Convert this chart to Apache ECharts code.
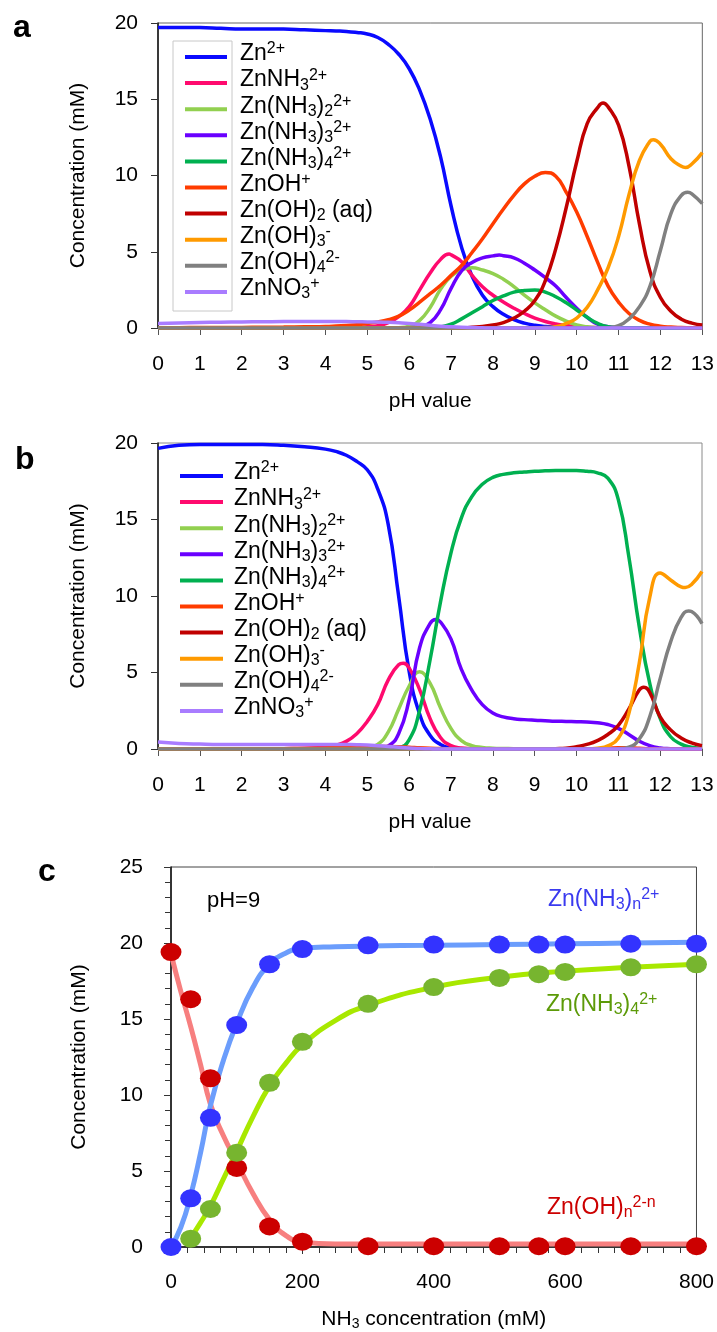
<!DOCTYPE html>
<html>
<head>
<meta charset="utf-8">
<script src="https://cdn.jsdelivr.net/npm/echarts@6/dist/echarts.min.js"></script>
<style>
  html, body { margin: 0; padding: 0; background: #fff; }
  #chart { width: 717px; height: 1332px; }
</style>
</head>
<body>
<div id="chart"></div>
<script>
// ---- pH grid shared by panels a and b ----
const pH = [0, 0.5, 1, 1.5, 2, 2.5, 3, 3.5, 4, 4.25, 4.5, 4.75, 5, 5.25, 5.5, 5.75, 6, 6.25, 6.5, 6.75,
  7, 7.25, 7.5, 7.75, 8, 8.25, 8.5, 8.75, 9, 9.25, 9.5, 9.75, 10, 10.25, 10.5, 10.75, 11, 11.25, 11.5, 11.75,
  12, 12.25, 12.5, 12.75, 13];

// ---- panel a: species concentrations (mM) ----
const aZn = [19.7, 19.7, 19.7, 19.65, 19.6, 19.6, 19.6, 19.55, 19.5, 19.48, 19.45, 19.38, 19.28, 19.05, 18.6, 17.95, 17.0, 15.6, 13.7, 11.2,
  8.0, 5.3, 3.4, 2.15, 1.4, 0.9, 0.55, 0.32, 0.18, 0.1, 0.05, 0.02, 0, 0, 0, 0, 0, 0, 0, 0, 0, 0, 0, 0, 0];
const aZnNH3 = [0, 0, 0, 0, 0, 0, 0, 0, 0, 0, 0, 0.03, 0.08, 0.15, 0.35, 0.75, 1.4, 2.5, 3.6, 4.5,
  4.8, 4.35, 3.45, 2.7, 2.15, 1.7, 1.3, 0.95, 0.65, 0.43, 0.27, 0.16, 0.08, 0.04, 0.02, 0, 0, 0, 0, 0, 0, 0, 0, 0, 0];
const aZnNH3_2 = [0, 0, 0, 0, 0, 0, 0, 0, 0, 0, 0, 0, 0, 0, 0, 0.02, 0.12, 0.5, 1.35, 2.55,
  3.4, 3.82, 3.95, 3.8, 3.57, 3.2, 2.72, 2.15, 1.65, 1.2, 0.78, 0.45, 0.2, 0.08, 0.02, 0, 0, 0, 0, 0, 0, 0, 0, 0, 0];
const aZnNH3_3 = [0, 0, 0, 0, 0, 0, 0, 0, 0, 0, 0, 0, 0, 0, 0, 0, 0.02, 0.1, 0.35, 1.2,
  2.6, 3.75, 4.3, 4.6, 4.73, 4.74, 4.6, 4.25, 3.8, 3.3, 2.75, 2.0, 1.3, 0.7, 0.25, 0.08, 0.02, 0, 0, 0, 0, 0, 0, 0, 0];
const aZnNH3_4 = [0, 0, 0, 0, 0, 0, 0, 0, 0, 0, 0, 0, 0, 0, 0, 0, 0, 0, 0.02, 0.08,
  0.25, 0.6, 1.0, 1.4, 1.8, 2.1, 2.35, 2.46, 2.5, 2.35, 2.05, 1.65, 1.18, 0.7, 0.3, 0.08, 0.02, 0, 0, 0, 0, 0, 0, 0, 0];
const aZnOH = [0.02, 0.02, 0.03, 0.03, 0.04, 0.05, 0.06, 0.08, 0.1, 0.13, 0.17, 0.22, 0.3, 0.4, 0.55, 0.78, 1.18, 1.7, 2.25, 2.8,
  3.45, 4.1, 4.95, 5.85, 6.84, 7.8, 8.7, 9.45, 9.95, 10.2, 9.95, 8.9, 7.6, 6.0, 4.3, 2.75, 1.7, 0.95, 0.5, 0.25, 0.12, 0.06, 0.03, 0.01, 0];
const aZnOH2 = [0, 0, 0, 0, 0, 0, 0, 0, 0, 0, 0, 0, 0, 0, 0, 0, 0, 0, 0, 0,
  0, 0, 0.05, 0.1, 0.2, 0.35, 0.65, 1.1, 1.8, 3.1, 5.2, 7.9, 10.9, 13.4, 14.45, 14.5, 13.3, 10.6, 6.8, 3.7, 2.0, 1.1, 0.58, 0.32, 0.2];
const aZnOH3 = [0, 0, 0, 0, 0, 0, 0, 0, 0, 0, 0, 0, 0, 0, 0, 0, 0, 0, 0, 0,
  0, 0, 0, 0, 0, 0, 0, 0, 0, 0.03, 0.08, 0.3, 0.65, 1.35, 2.5, 3.95, 6.0, 8.75, 11.0, 12.25, 12.05, 11.1, 10.6, 10.75, 11.5];
const aZnOH4 = [0, 0, 0, 0, 0, 0, 0, 0, 0, 0, 0, 0, 0, 0, 0, 0, 0, 0, 0, 0,
  0, 0, 0, 0, 0, 0, 0, 0, 0, 0, 0, 0, 0, 0, 0, 0.02, 0.15, 0.6, 1.4, 2.75, 5.1, 7.5, 8.7, 8.8, 8.15];
const aZnNO3 = [0.3, 0.33, 0.36, 0.38, 0.4, 0.41, 0.42, 0.42, 0.42, 0.42, 0.42, 0.41, 0.4, 0.39, 0.37, 0.34, 0.3, 0.24, 0.18, 0.12,
  0.08, 0.05, 0.03, 0.01, 0, 0, 0, 0, 0, 0, 0, 0, 0, 0, 0, 0, 0, 0, 0, 0, 0, 0, 0, 0, 0];

// extra readings at peak tops and valleys, [pH, mM]
const aZnNH3Top = [[6.95, 4.85]];
const aZnNH3_3Top = [[8.15, 4.78]];
const aZnOH2Top = [[10.63, 14.75]];
const aZnOH3Top = [[11.83, 12.35], [12.6, 10.52]];
const aZnOH4Top = [[12.65, 8.9]];

// ---- panel b: species concentrations (mM) with ammonia ----
const bZn = [19.65, 19.85, 19.9, 19.9, 19.9, 19.9, 19.85, 19.75, 19.6, 19.45, 19.2, 18.8, 18.25, 17.0, 14.7, 10.0, 5.1, 2.3, 0.9, 0.3,
  0.08, 0.02, 0, 0, 0, 0, 0, 0, 0, 0, 0, 0, 0, 0, 0, 0, 0, 0, 0, 0, 0, 0, 0, 0, 0];
const bZnNH3 = [0, 0, 0, 0, 0, 0, 0.02, 0.05, 0.12, 0.25, 0.5, 1.0, 1.8, 2.9, 4.5, 5.5, 5.3, 3.9, 2.0, 0.75,
  0.22, 0.06, 0.02, 0, 0, 0, 0, 0, 0, 0, 0, 0, 0, 0, 0, 0, 0, 0, 0, 0, 0, 0, 0, 0, 0];
const bZnNH3_2 = [0, 0, 0, 0, 0, 0, 0, 0, 0, 0, 0, 0.03, 0.1, 0.3, 1.1, 2.6, 4.1, 5.05, 4.3, 2.7,
  1.35, 0.55, 0.22, 0.1, 0.05, 0.03, 0.02, 0, 0, 0, 0, 0, 0, 0, 0, 0, 0, 0, 0, 0, 0, 0, 0, 0, 0];
const bZnNH3_3 = [0, 0, 0, 0, 0, 0, 0, 0, 0, 0, 0, 0, 0, 0.05, 0.2, 1.0, 3.2, 6.6, 8.2, 8.3,
  7.2, 5.2, 3.85, 2.9, 2.35, 2.1, 1.98, 1.92, 1.88, 1.85, 1.82, 1.8, 1.78, 1.76, 1.72, 1.6, 1.35, 0.95, 0.52, 0.22, 0.07, 0.02, 0, 0, 0];
const bZnNH3_4 = [0, 0, 0, 0, 0, 0, 0, 0, 0, 0, 0, 0, 0, 0, 0.02, 0.08, 0.6, 2.5, 5.8, 9.6,
  12.8, 15.1, 16.5, 17.3, 17.75, 17.95, 18.05, 18.1, 18.15, 18.18, 18.2, 18.2, 18.2, 18.15, 18.05, 17.7, 16.3, 12.6, 8.0, 4.3, 2.0, 0.8, 0.32, 0.12, 0.05];
const bZnOH = [0, 0, 0, 0, 0, 0, 0.02, 0.04, 0.07, 0.09, 0.11, 0.13, 0.15, 0.16, 0.16, 0.15, 0.12, 0.08, 0.05, 0.03,
  0.01, 0, 0, 0, 0, 0, 0, 0, 0, 0, 0, 0, 0, 0, 0.02, 0.05, 0.08, 0.08, 0.05, 0.02, 0, 0, 0, 0, 0];
const bZnOH2 = [0, 0, 0, 0, 0, 0, 0, 0, 0, 0, 0, 0, 0, 0, 0, 0, 0, 0, 0, 0,
  0, 0, 0, 0, 0, 0, 0, 0, 0, 0, 0.02, 0.05, 0.15, 0.3, 0.55, 0.95, 1.55, 2.6, 3.85, 3.7, 2.1, 1.25, 0.72, 0.4, 0.22];
const bZnOH3 = [0, 0, 0, 0, 0, 0, 0, 0, 0, 0, 0, 0, 0, 0, 0, 0, 0, 0, 0, 0,
  0, 0, 0, 0, 0, 0, 0, 0, 0, 0, 0, 0, 0, 0, 0.05, 0.2, 0.7, 2.3, 5.6, 9.9, 11.5, 11.05, 10.6, 10.75, 11.6];
const bZnOH4 = [0, 0, 0, 0, 0, 0, 0, 0, 0, 0, 0, 0, 0, 0, 0, 0, 0, 0, 0, 0,
  0, 0, 0, 0, 0, 0, 0, 0, 0, 0, 0, 0, 0, 0, 0, 0, 0.02, 0.12, 0.65, 2.1, 4.6, 7.0, 8.6, 8.98, 8.2];
const bZnNO3 = [0.45, 0.36, 0.32, 0.3, 0.3, 0.3, 0.3, 0.3, 0.3, 0.3, 0.29, 0.28, 0.26, 0.22, 0.17, 0.11, 0.06, 0.03, 0.01, 0,
  0, 0, 0, 0, 0, 0, 0, 0, 0, 0, 0, 0, 0, 0, 0, 0, 0, 0, 0, 0, 0, 0, 0, 0, 0];

const bZnNH3Top = [[5.86, 5.6]];
const bZnNH3_3Top = [[6.64, 8.47]];
const bZnOH2Top = [[11.61, 4.03]];
const bZnOH3Top = [[12.6, 10.55]];
const bZnOH4Top = [[12.68, 9.02]];

// ---- panel c: pH 9, zinc distribution vs NH3 ----
const nh3Points = [0, 30, 60, 100, 150, 200, 300, 400, 500, 560, 600, 700, 800];
const ammineDots = [0, 3.2, 8.5, 14.6, 18.6, 19.6, 19.85, 19.9, 19.9, 19.9, 19.9, 19.95, 19.95];
const tetraDots = [null, 0.55, 2.5, 6.2, 10.8, 13.5, 16.0, 17.1, 17.7, 17.95, 18.1, 18.4, 18.6];
const hydroxoDots = [19.4, 16.3, 11.1, 5.2, 1.35, 0.35, 0.05, 0.05, 0.05, 0.05, 0.05, 0.05, 0.05];

const nh3Curve = [0, 15, 30, 45, 60, 80, 100, 125, 150, 175, 200, 250, 300, 400, 500, 600, 700, 800];
const ammineFit = [0, 1.3, 3.4, 6.2, 9.3, 12.3, 14.7, 17.1, 18.6, 19.35, 19.65, 19.75, 19.8, 19.85, 19.9, 19.95, 20.0, 20.05];
const tetraFit = [null, null, 0.6, 1.6, 2.7, 4.5, 6.3, 8.6, 10.6, 12.1, 13.3, 14.9, 15.9, 17.1, 17.75, 18.15, 18.4, 18.6];
const hydroxoFit = [19.3, 16.8, 14.5, 12.0, 9.4, 7.3, 5.6, 3.5, 1.8, 0.75, 0.32, 0.2, 0.2, 0.2, 0.2, 0.2, 0.2, 0.2];

// ---- species names, labels and colours ----
const speciesNames = ['Zn2+', 'ZnNH3 2+', 'Zn(NH3)2 2+', 'Zn(NH3)3 2+', 'Zn(NH3)4 2+', 'ZnOH+', 'Zn(OH)2 (aq)', 'Zn(OH)3-', 'Zn(OH)4 2-', 'ZnNO3+'];
const speciesLabels = [
  '{m|Zn}{sup|2+}',
  '{m|ZnNH}{sub|3}{sup|2+}',
  '{m|Zn(NH}{sub|3}{m|)}{sub|2}{sup|2+}',
  '{m|Zn(NH}{sub|3}{m|)}{sub|3}{sup|2+}',
  '{m|Zn(NH}{sub|3}{m|)}{sub|4}{sup|2+}',
  '{m|ZnOH}{sup|+}',
  '{m|Zn(OH)}{sub|2}{m| (aq)}',
  '{m|Zn(OH)}{sub|3}{sup|-}',
  '{m|Zn(OH)}{sub|4}{sup|2-}',
  '{m|ZnNO}{sub|3}{sup|+}'
];
const speciesColors = ['#0a0aff', '#ff0a6e', '#92d050', '#6a00ff', '#00b050', '#ff3c00', '#c00000', '#ff9a00', '#808080', '#a97cff'];

const panelA = [aZn, aZnNH3, aZnNH3_2, aZnNH3_3, aZnNH3_4, aZnOH, aZnOH2, aZnOH3, aZnOH4, aZnNO3];
const panelATops = [[], aZnNH3Top, [], aZnNH3_3Top, [], [], aZnOH2Top, aZnOH3Top, aZnOH4Top, []];
const panelB = [bZn, bZnNH3, bZnNH3_2, bZnNH3_3, bZnNH3_4, bZnOH, bZnOH2, bZnOH3, bZnOH4, bZnNO3];
const panelBTops = [[], bZnNH3Top, [], bZnNH3_3Top, [], [], bZnOH2Top, bZnOH3Top, bZnOH4Top, []];

const FONT = '"Liberation Sans", Arial, Helvetica, sans-serif';

// rich-text token styles for graphic text (zrender uses fill for colour)
function richFor(color) {
  return {
    m: { fontSize: 23, fontFamily: FONT, fill: color, lineHeight: 26 },
    sub: { fontSize: 16, fontFamily: FONT, fill: color, lineHeight: 10, verticalAlign: 'bottom' },
    sup: { fontSize: 16, fontFamily: FONT, fill: color, lineHeight: 14, verticalAlign: 'top' }
  };
}

// ---- axes ----
function pHAxis(gridIndex) {
  return {
    gridIndex, type: 'value', min: 0, max: 13, interval: 1,
    axisLine: { show: true, onZero: false, lineStyle: { color: '#7a7a7a', width: 1.5 } },
    axisTick: { show: true, inside: false, length: 7, lineStyle: { color: '#555', width: 1 } },
    axisLabel: { fontSize: 21, color: '#000', margin: 26, fontFamily: FONT },
    splitLine: { show: false },
    name: 'pH value', nameLocation: 'middle', nameGap: 63,
    nameTextStyle: { fontSize: 21, color: '#000', fontFamily: FONT }
  };
}
function concAxis(gridIndex, max, interval, margin, nameGap, minor) {
  return {
    gridIndex, type: 'value', min: 0, max, interval,
    axisLine: { show: true, lineStyle: { color: '#111', width: 1.5 } },
    axisTick: { show: true, inside: false, length: 7, lineStyle: { color: '#333', width: 1 } },
    minorTick: minor ? { show: true, splitNumber: 5, length: 6, lineStyle: { color: '#333', width: 1 } } : { show: false },
    axisLabel: { fontSize: 21, color: '#000', margin, fontFamily: FONT },
    splitLine: { show: false },
    name: 'Concentration (mM)', nameLocation: 'middle', nameRotate: 90, nameGap,
    nameTextStyle: { fontSize: 21, color: '#000', fontFamily: FONT }
  };
}

// ---- series ----
const series = [];
function addSpecies(panelIndex, table, tops) {
  table.forEach((vals, k) => {
    const pts = pH.map((x, i) => [x, vals[i]]).concat(tops[k]).sort((p, q) => p[0] - q[0]);
    series.push({
      type: 'line', name: speciesNames[k], xAxisIndex: panelIndex, yAxisIndex: panelIndex,
      data: pts,
      smooth: 0.5, showSymbol: false, symbol: 'none', clip: false,
      lineStyle: { color: speciesColors[k], width: 3.5 },
      itemStyle: { color: speciesColors[k] },
      emphasis: { disabled: true }, z: 2 + k * 0.01
    });
  });
}
addSpecies(0, panelA, panelATops);
addSpecies(1, panelB, panelBTops);

function fitLine(values, color) {
  return {
    type: 'line', xAxisIndex: 2, yAxisIndex: 2,
    data: nh3Curve.map((x, i) => [x, values[i]]),
    smooth: 0.5, showSymbol: false, symbol: 'none', clip: false,
    connectNulls: false,
    lineStyle: { color, width: 5 }, emphasis: { disabled: true }, z: 2
  };
}
function dotSeries(values, color) {
  return {
    type: 'scatter', xAxisIndex: 2, yAxisIndex: 2,
    data: nh3Points.map((x, i) => [x, values[i]]).filter(p => p[1] !== null),
    symbol: 'circle', symbolSize: [21, 18], clip: false,
    itemStyle: { color, opacity: 1 }, emphasis: { disabled: true }, z: 4
  };
}
series.push(fitLine(hydroxoFit, '#f77f7f'));
series.push(fitLine(tetraFit, '#a8e800'));
series.push(fitLine(ammineFit, '#6b9dfc'));
series.push(dotSeries(hydroxoDots, '#cc0000'));
series.push(dotSeries(tetraDots, '#77b52f'));
series.push(dotSeries(ammineDots, '#3333ff'));

// ---- legends and annotations ----
const graphic = [];
function addLegend(rowStartY, lineX0, lineX1, textX) {
  speciesLabels.forEach((lab, k) => {
    const y = rowStartY + k * 26.1;
    graphic.push({
      type: 'line', silent: true,
      shape: { x1: lineX0, y1: y, x2: lineX1, y2: y },
      style: { stroke: speciesColors[k], lineWidth: 4 }
    });
    graphic.push({
      type: 'text', silent: true, x: textX, y: y - 3,
      style: { text: lab, rich: richFor('#000'), align: 'left', verticalAlign: 'middle' }
    });
  });
}
// legend frame of panel a
graphic.push({
  type: 'rect', silent: true, z: -1,
  shape: { x: 173, y: 41, width: 59, height: 270 },
  style: { fill: '#fff', stroke: '#c8c8c8', lineWidth: 1 }
});
addLegend(57, 185, 227, 240);
addLegend(476, 180, 223, 234);

// panel letters
[['a', 13, 28], ['b', 15, 460], ['c', 38, 872]].forEach(([t, x, y]) => {
  graphic.push({
    type: 'text', silent: true, x, y,
    style: { text: t, font: 'bold 32px ' + FONT, fill: '#000', align: 'left', verticalAlign: 'middle' }
  });
});

// panel c annotations
graphic.push({
  type: 'text', silent: true, x: 207, y: 901,
  style: { text: 'pH=9', font: '22px ' + FONT, fill: '#000', align: 'left', verticalAlign: 'middle' }
});
graphic.push({
  type: 'text', silent: true, x: 548, y: 900,
  style: { text: '{m|Zn(NH}{sub|3}{m|)}{sub|n}{sup|2+}', rich: richFor('#3a3aef'), align: 'left', verticalAlign: 'middle' }
});
graphic.push({
  type: 'text', silent: true, x: 546, y: 1005,
  style: { text: '{m|Zn(NH}{sub|3}{m|)}{sub|4}{sup|2+}', rich: richFor('#5c9a08'), align: 'left', verticalAlign: 'middle' }
});
graphic.push({
  type: 'text', silent: true, x: 547, y: 1208,
  style: { text: '{m|Zn(OH)}{sub|n}{sup|2-n}', rich: richFor('#cc0000'), align: 'left', verticalAlign: 'middle' }
});

const option = {
  animation: false,
  backgroundColor: '#fff',
  textStyle: { fontFamily: FONT },
  grid: [
    { left: 158, top: 23, width: 545, height: 305, show: true, borderColor: '#666', borderWidth: 1, containLabel: false },
    { left: 158, top: 443, width: 544, height: 306, show: true, borderColor: '#8a8a8a', borderWidth: 1, containLabel: false },
    { left: 171, top: 867, width: 528, height: 380, show: true, borderColor: '#444', borderWidth: 1, containLabel: false }
  ],
  xAxis: [
    pHAxis(0),
    pHAxis(1),
    {
      gridIndex: 2, type: 'value', min: 0, max: 800, interval: 200,
      axisLine: { show: true, onZero: false, lineStyle: { color: '#111', width: 1.5 } },
      axisTick: { show: true, inside: false, length: 7, lineStyle: { color: '#333', width: 1 } },
      minorTick: { show: true, splitNumber: 8, length: 6, lineStyle: { color: '#333', width: 1 } },
      axisLabel: { fontSize: 21, color: '#000', margin: 25, fontFamily: FONT },
      splitLine: { show: false },
      name: '{m|NH}{s|3}{m| concentration (mM)}', nameLocation: 'middle', nameGap: 60,
      nameTextStyle: {
        fontSize: 21, color: '#000', fontFamily: FONT,
        rich: {
          m: { fontSize: 21, fontFamily: FONT, color: '#000', lineHeight: 24 },
          s: { fontSize: 14, fontFamily: FONT, color: '#000', lineHeight: 10, verticalAlign: 'bottom' }
        }
      }
    }
  ],
  yAxis: [
    concAxis(0, 20, 5, 20, 69, false),
    concAxis(1, 20, 5, 20, 69, false),
    concAxis(2, 25, 5, 28, 81, true)
  ],
  series,
  graphic
};

const chart = echarts.init(document.getElementById('chart'), null, { renderer: 'canvas' });
chart.setOption(option);
</script>
</body>
</html>
